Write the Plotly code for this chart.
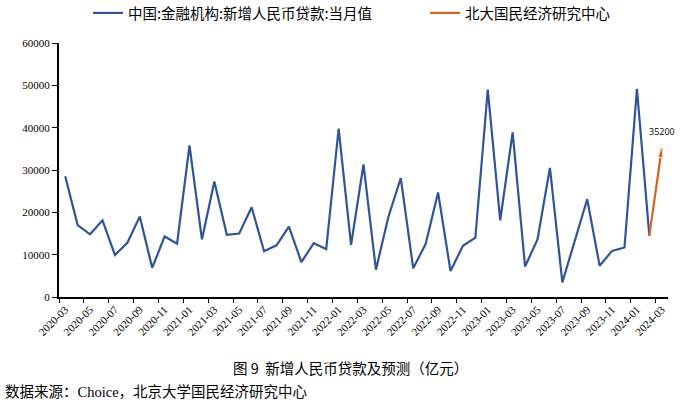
import plotly.graph_objects as go

months = [
    "2020-03","2020-04","2020-05","2020-06","2020-07","2020-08","2020-09","2020-10","2020-11","2020-12",
    "2021-01","2021-02","2021-03","2021-04","2021-05","2021-06","2021-07","2021-08","2021-09","2021-10","2021-11","2021-12",
    "2022-01","2022-02","2022-03","2022-04","2022-05","2022-06","2022-07","2022-08","2022-09","2022-10","2022-11","2022-12",
    "2023-01","2023-02","2023-03","2023-04","2023-05","2023-06","2023-07","2023-08","2023-09","2023-10","2023-11","2023-12",
    "2024-01","2024-02","2024-03",
]
actual = [
    28500, 17000, 14800, 18100, 9927, 12800, 19000, 6898, 14300, 12600,
    35800, 13600, 27300, 14700, 15000, 21200, 10800, 12200, 16600, 8262, 12700, 11300,
    39800, 12300, 31300, 6454, 18900, 28100, 6790, 12500, 24700, 6152, 12100, 14000,
    49000, 18100, 38900, 7188, 13600, 30500, 3459, 13600, 23100, 7384, 10900, 11700,
    49200, 14500, None,
]
forecast_months = ["2024-02", "2024-03"]
forecast = [14500, 35200]
forecast_label = "35200"

blue = "#2F5597"
orange = "#D0661F"

W, H = 681, 406
L, R, T, B = 59, 13, 43, 109
PW, PH = W - L - R, H - T - B


def px_x(x):
    return (x - L) / PW


def px_y(y):
    return (H - B - y) / PH


fig = go.Figure()
fig.add_trace(go.Scatter(
    x=months, y=actual, mode="lines", name="中国:金融机构:新增人民币贷款:当月值",
    line=dict(color=blue, width=2.2), legend="legend",
))
fig.add_trace(go.Scatter(
    x=forecast_months, y=forecast, mode="lines", name="北大国民经济研究中心",
    line=dict(color=orange, width=2.2), legend="legend2",
))
fig.add_trace(go.Scatter(
    x=forecast_months, y=forecast, mode="markers", showlegend=False,
    marker=dict(symbol=["circle", "arrow"], size=[0, 10], angleref="previous", color=orange),
    hoverinfo="skip",
))

legend_common = dict(
    orientation="h", xref="container", yref="container",
    yanchor="middle", xanchor="left",
    font=dict(family="Noto Sans CJK SC", size=14.5, color="#000000"),
    itemwidth=30, bgcolor="rgba(0,0,0,0)",
)

fig.update_layout(
    width=W, height=H,
    margin=dict(l=L, r=R, t=T, b=B, autoexpand=False),
    paper_bgcolor="white", plot_bgcolor="white",
    showlegend=True,
    legend=dict(legend_common, x=88 / W, y=1 - 13 / H),
    legend2=dict(legend_common, x=425 / W, y=1 - 13 / H),
    xaxis=dict(
        type="category", categoryorder="array", categoryarray=months,
        range=[-0.5, len(months) - 0.5],
        showgrid=False, showline=True, linecolor="#000000", linewidth=2,
        ticks="outside", ticklen=4, tickcolor="#000000", tickwidth=1,
        tickson="boundaries", dtick=2, tick0=0,
        tickangle=-45,
        tickfont=dict(family="Liberation Serif", size=11, color="#000000"),
    ),
    yaxis=dict(
        range=[0, 60000], dtick=10000, tickformat="d", showgrid=False, zeroline=False,
        showline=True, linecolor="#000000", linewidth=2,
        ticks="outside", ticklen=5, tickcolor="#000000",
        tickfont=dict(family="Liberation Serif", size=11, color="#000000"),
    ),
    annotations=[
        dict(text=forecast_label, x=forecast_months[-1], y=forecast[-1], xref="x", yref="y",
             showarrow=False, yshift=16, xanchor="center", yanchor="middle",
             font=dict(family="Open Sans, Noto Sans", size=9, color="#000000")),
        dict(text="图 9  新增人民币贷款及预测（亿元）", xref="paper", yref="paper",
             x=px_x(350), y=px_y(367), xanchor="center", yanchor="middle",
             showarrow=False, font=dict(family="Noto Sans CJK SC", size=14.5, color="#000000")),
        dict(text="数据来源：Choice，北京大学国民经济研究中心", xref="paper", yref="paper",
             x=px_x(3), y=px_y(392), xanchor="left", yanchor="middle",
             showarrow=False, font=dict(family="Liberation Serif, Noto Sans CJK SC", size=14.5, color="#000000")),
    ],
)

fig.write_html(
    "out.html",
    config={"displayModeBar": False},
    post_script="document.body.style.margin='0';document.body.style.overflow='hidden';",
)
